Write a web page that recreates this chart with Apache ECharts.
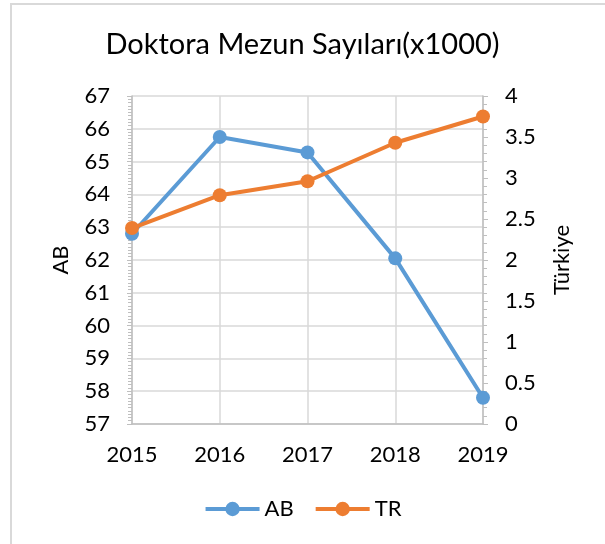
<!DOCTYPE html>
<html>
<head>
<meta charset="utf-8">
<script src="https://cdn.jsdelivr.net/npm/echarts@6/dist/echarts.min.js"></script>
<style>
  html, body { margin: 0; padding: 0; background: #fff; }
  #main { width: 605px; height: 544px; }
</style>
</head>
<body>
<div id="main"></div>
<script>
// yıllar ve seriler (x1000)
var years = ['2015', '2016', '2017', '2018', '2019'];
var abValues = [62.8, 65.75, 65.28, 62.05, 57.8];
var trValues = [2.39, 2.79, 2.96, 3.43, 3.75];

var fontName = 'Lato';
var gridColor = '#d9d9d9';
var axisColor = '#bfbfbf';

var chart = echarts.init(document.getElementById('main'));

var option = {
  backgroundColor: '#fff',
  textStyle: { fontFamily: fontName },
  title: {
    text: 'Doktora Mezun Sayıları(x1000)',
    left: 'center',
    top: 25,
    textStyle: { fontFamily: fontName, fontSize: 29, fontWeight: 'normal', color: '#000' }
  },
  legend: {
    data: ['AB', 'TR'],
    bottom: 19,
    left: 'center',
    itemWidth: 54,
    itemHeight: 18,
    itemGap: 20,
    lineStyle: { width: 4 },
    textStyle: { fontFamily: fontName, fontSize: 22, color: '#000' }
  },
  graphic: [{
    type: 'rect',
    shape: { x: 11, y: 4, width: 700, height: 700 },
    style: { fill: 'none', stroke: '#d9d9d9', lineWidth: 2 },
    silent: true
  }],
  grid: { left: 132, right: 122, top: 96, bottom: 120 },
  xAxis: {
    type: 'category',
    data: years,
    boundaryGap: false,
    axisLine: { lineStyle: { color: axisColor, width: 1.5 } },
    axisTick: { show: false },
    splitLine: { show: true, lineStyle: { color: gridColor, width: 1.5 } },
    axisLabel: { margin: 20, fontFamily: fontName, fontSize: 22, color: '#000' }
  },
  yAxis: [{
    type: 'value',
    name: 'AB',
    nameLocation: 'middle',
    nameGap: 60,
    nameTextStyle: { fontFamily: fontName, fontSize: 22, color: '#000' },
    min: 57,
    max: 67,
    interval: 1,
    axisLine: { show: true, lineStyle: { color: axisColor, width: 1.5 } },
    axisTick: { show: true, length: 5, lineStyle: { color: axisColor } },
    minorTick: { show: true, splitNumber: 10, length: 4, lineStyle: { color: axisColor } },
    splitLine: { show: true, lineStyle: { color: gridColor, width: 1.5 } },
    axisLabel: { margin: 22, fontFamily: fontName, fontSize: 22, color: '#000' }
  }, {
    type: 'value',
    name: 'Türkiye',
    nameLocation: 'middle',
    nameGap: 68,
    nameTextStyle: { fontFamily: fontName, fontSize: 22, color: '#000' },
    min: 0,
    max: 4,
    interval: 0.5,
    axisLine: { show: true, lineStyle: { color: axisColor, width: 1.5 } },
    axisTick: { show: true, length: 5, lineStyle: { color: axisColor } },
    minorTick: { show: true, splitNumber: 5, length: 4, lineStyle: { color: axisColor } },
    splitLine: { show: false },
    axisLabel: { margin: 22, fontFamily: fontName, fontSize: 22, color: '#000' }
  }],
  series: [{
    name: 'AB',
    type: 'line',
    yAxisIndex: 0,
    data: abValues,
    symbol: 'circle',
    symbolSize: 14,
    color: '#5b9bd5',
    lineStyle: { width: 4, color: '#5b9bd5' },
    itemStyle: { color: '#5b9bd5' }
  }, {
    name: 'TR',
    type: 'line',
    yAxisIndex: 1,
    data: trValues,
    symbol: 'circle',
    symbolSize: 14,
    color: '#ed7d31',
    lineStyle: { width: 4, color: '#ed7d31' },
    itemStyle: { color: '#ed7d31' }
  }]
};

chart.setOption(option);
</script>
</body>
</html>
